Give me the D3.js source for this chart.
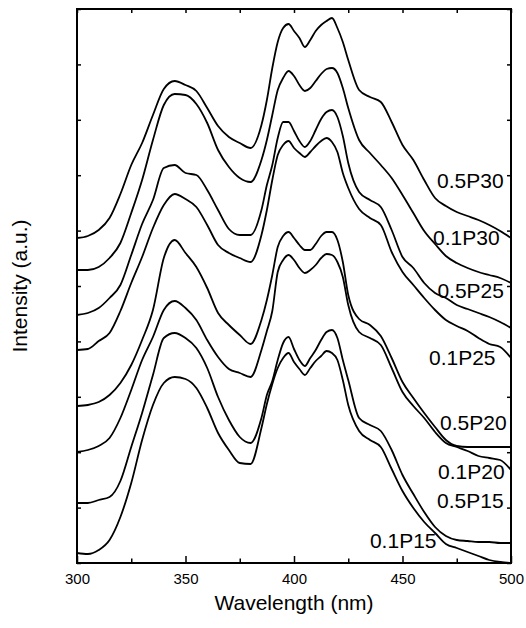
<!DOCTYPE html>
<html>
<head>
<meta charset="utf-8">
<script src="https://cdn.jsdelivr.net/npm/d3@7"></script>
<style>
  body { margin: 0; background: #fff; }
  text { font-family: "Liberation Sans", Arial, sans-serif; fill: #000; }
</style>
</head>
<body>
<div id="chart"></div>
<script>
// wavelength grid (nm), finer around the 397/417 nm doublet
const wavelengths = [300,305,310,315,320,325,330,335,340,345,350,355,360,365,370,375,380,385,
    387.5,390,392.5,395,397.5,400,402.5,405,407.5,410,412.5,415,417.5,420,422.5,
    425,430,435,440,445,450,455,460,465,470,475,480,485,490,495,500];

// intensities (a.u., curves stacked with offsets)
const p05P30 = [325,327,333,345,369,398,420,448,474,482,478,472,455,437,426,420,415,438,
    463,495,521,535,539,532,525,516,523,532,538,542,545,535,521,
    503,473,466,461,441,418,403,383,365,357,351,347,343,338,332,325];
const p01P30 = [293,293,296,305,320,350,383,423,458,469,468,459,440,413,396,385,381,403,
    423,448,473,485,492,487,478,472,475,482,489,494,495,490,475,
    455,423,410,398,385,368,350,332,319,307,300,295,291,288,285,280];
const p05P25 = [248,250,255,265,278,308,339,363,395,398,390,388,373,353,334,328,328,353,
    378,398,425,441,441,432,422,416,422,433,444,451,453,446,427,
    400,371,363,356,333,306,295,280,270,265,258,254,250,246,241,235];
const p01P25 = [213,214,222,230,252,280,306,335,358,369,364,356,338,318,310,305,301,328,
    353,383,408,418,422,415,410,406,411,417,422,425,421,411,390,
    375,354,345,338,311,291,278,265,253,243,237,232,225,219,216,205];
const p05P20 = [157,158,161,168,180,198,223,253,305,323,310,296,275,250,238,228,219,243,
    263,288,316,327,331,325,318,313,313,319,327,331,331,323,301,
    268,244,238,227,205,181,165,150,136,123,117,116,116,116,116,116];
const p01P20 = [111,113,117,125,145,173,203,226,253,262,255,243,223,206,194,190,186,213,
    232,252,291,303,308,303,295,290,293,298,305,309,308,301,286,
    258,231,225,218,195,171,157,145,131,120,116,112,107,105,103,93];
const p05P15 = [60,60,63,66,82,116,150,188,225,230,225,215,195,166,143,126,120,145,
    168,182,203,220,226,214,203,197,205,213,223,231,233,225,203,
    183,145,138,132,113,88,69,51,36,27,23,22,21,21,20,20];
const p01P15 = [10,9,13,23,46,80,123,158,180,186,184,175,155,130,113,100,99,135,
    159,179,195,205,210,201,194,188,195,202,207,212,210,203,183,
    158,132,123,116,94,72,55,41,30,19,15,11,7,3,1,0];

const seriesNames = ['0.5P30', '0.1P30', '0.5P25', '0.1P25', '0.5P20', '0.1P20', '0.5P15', '0.1P15'];
const seriesValues = [p05P30, p01P30, p05P25, p01P25, p05P20, p01P20, p05P15, p01P15];

// where each name sits, in data coordinates (wavelength, intensity of baseline)
const labelX = [465.9, 464.1, 466.1, 462.2, 467.3, 466.4, 465.9, 435];
const labelY = [375, 318.5, 265, 198, 133, 84, 55.5, 15.5];

const xMajor = [300, 350, 400, 450, 500];
const xMinor = [325, 375, 425, 475];

let margin = { top: 9, right: 15, bottom: 65, left: 77 };
let width = 526 - margin.left - margin.right;
let height = 628 - margin.top - margin.bottom;

let x = d3.scaleLinear().domain([300, 500]).range([0, width]);
let y = d3.scaleLinear().domain([0, 554]).range([height, 0]);
let yTicks = d3.range(0, 11).map(i => i * 55.4);

let svg = d3.select("#chart")
    .append("svg")
    .attr("width", 526)
    .attr("height", 628)
    .append("g")
    .attr("transform", "translate(" + margin.left + "," + margin.top + ")");

svg.append("defs").append("clipPath").attr("id", "plot-clip")
    .append("rect").attr("width", width).attr("height", height);

// ticks, all pointing inward
function styleAxis(g) {
    g.select(".domain").remove();
    g.selectAll(".tick line").attr("stroke", "#000").attr("stroke-width", 1.5);
}

svg.append("g")
    .attr("transform", "translate(0," + height + ")")
    .call(d3.axisBottom(x).tickValues(xMajor).tickSizeInner(-7).tickPadding(10).tickFormat(d3.format("d")))
    .call(styleAxis)
    .selectAll("text").style("font-size", "15px").style("font-family", "Liberation Sans, Arial, sans-serif");

svg.append("g")
    .attr("transform", "translate(0," + height + ")")
    .call(d3.axisBottom(x).tickValues(xMinor).tickSizeInner(-4.5).tickFormat(""))
    .call(styleAxis);

svg.append("g")
    .call(d3.axisTop(x).tickValues(xMajor.concat(xMinor)).tickSizeInner(-4).tickFormat(""))
    .call(styleAxis);

svg.append("g")
    .call(d3.axisLeft(y).tickValues(yTicks).tickSizeInner(-4).tickFormat(""))
    .call(styleAxis);

svg.append("g")
    .attr("transform", "translate(" + width + ",0)")
    .call(d3.axisRight(y).tickValues(yTicks).tickSizeInner(-4).tickFormat(""))
    .call(styleAxis);

let line = d3.line()
    .x((d, i) => x(wavelengths[i]))
    .y(d => y(d))
    .curve(d3.curveMonotoneX);

svg.append("g")
    .attr("clip-path", "url(#plot-clip)")
    .selectAll("path")
    .data(seriesValues)
    .enter().append("path")
    .attr("fill", "none")
    .attr("stroke", "#000")
    .attr("stroke-width", 1.8)
    .attr("stroke-linejoin", "round")
    .attr("d", line);

svg.append("rect")
    .attr("width", width)
    .attr("height", height)
    .attr("fill", "none")
    .attr("stroke", "#000")
    .attr("stroke-width", 2);

svg.selectAll(".series-label")
    .data(seriesNames)
    .enter().append("text")
    .attr("class", "series-label")
    .attr("x", (d, i) => x(labelX[i]))
    .attr("y", (d, i) => y(labelY[i]))
    .style("font-size", "21px")
    .text(d => d);

svg.append("text")
    .attr("x", width / 2)
    .attr("y", height + 47)
    .style("text-anchor", "middle")
    .style("font-size", "21px")
    .text("Wavelength (nm)");

svg.append("text")
    .attr("transform", "rotate(-90)")
    .attr("x", -(height / 2))
    .attr("y", -50)
    .style("text-anchor", "middle")
    .style("font-size", "21px")
    .text("Intensity (a.u.)");
</script>
</body>
</html>
